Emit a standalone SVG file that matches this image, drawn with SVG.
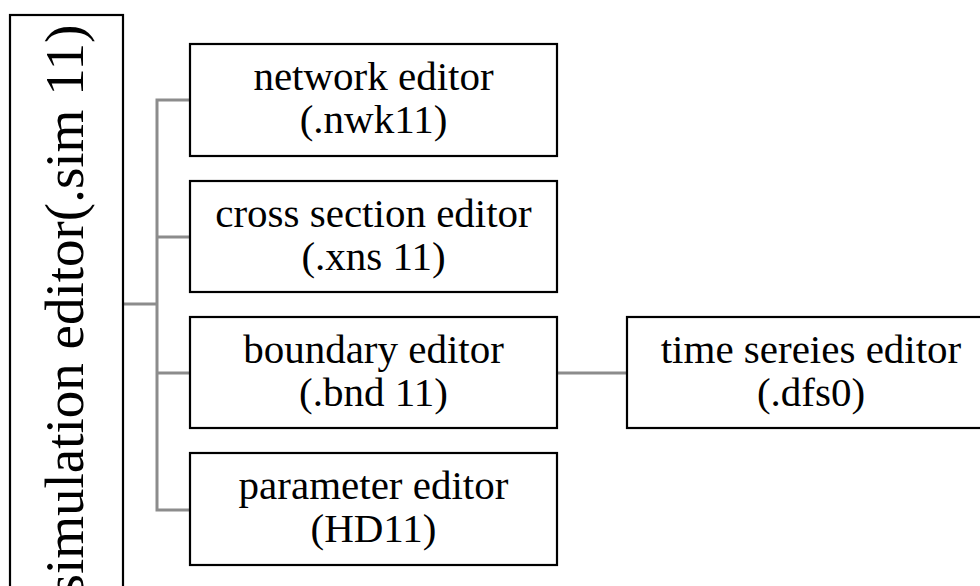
<svg xmlns="http://www.w3.org/2000/svg" width="980" height="586" viewBox="0 0 980 586">
<style>
.box{fill:#fff;stroke:#000;stroke-width:2.2}
.con{stroke:#8c8c8c;stroke-width:3;fill:none}
</style>
<rect width="980" height="586" fill="#fff"/>
<g id="connectors">
<line class="con" x1="123" y1="304" x2="157" y2="304" stroke="#7a7a7a"/>
<polyline class="con" points="190,100 157,100 157,510 190,510"/>
<line class="con" x1="157" y1="237" x2="190" y2="237"/>
<line class="con" x1="157" y1="373" x2="190" y2="373"/>
<line class="con" x1="557" y1="373" x2="627" y2="373"/>
</g>
<g font-family="Times New Roman, Liberation Serif, DejaVu Serif, serif" fill="#000" text-anchor="middle">
<g id="sim">
<rect class="box" x="10" y="15" width="113" height="590"/>
<text font-size="55" transform="translate(83,310) rotate(-90)">simulation editor(.sim 11)</text>
</g>
<g id="nwk" font-size="41">
<rect class="box" x="190" y="44" width="367" height="112"/>
<text x="373.5" y="90">network editor</text>
<text x="373.5" y="133">(.nwk11)</text>
</g>
<g id="xns" font-size="41">
<rect class="box" x="190" y="181" width="367" height="111"/>
<text x="373.5" y="227">cross section editor</text>
<text x="373.5" y="270">(.xns 11)</text>
</g>
<g id="bnd" font-size="41">
<rect class="box" x="190" y="317" width="367" height="111"/>
<text x="373.5" y="363">boundary editor</text>
<text x="373.5" y="406">(.bnd 11)</text>
</g>
<g id="hd" font-size="41">
<rect class="box" x="190" y="453" width="367" height="112"/>
<text x="373.5" y="499">parameter editor</text>
<text x="373.5" y="542">(HD11)</text>
</g>
<g id="dfs" font-size="41">
<rect class="box" x="627" y="317" width="368" height="111"/>
<text x="811" y="363">time sereies editor</text>
<text x="811" y="406">(.dfs0)</text>
</g>
</g>
</svg>
